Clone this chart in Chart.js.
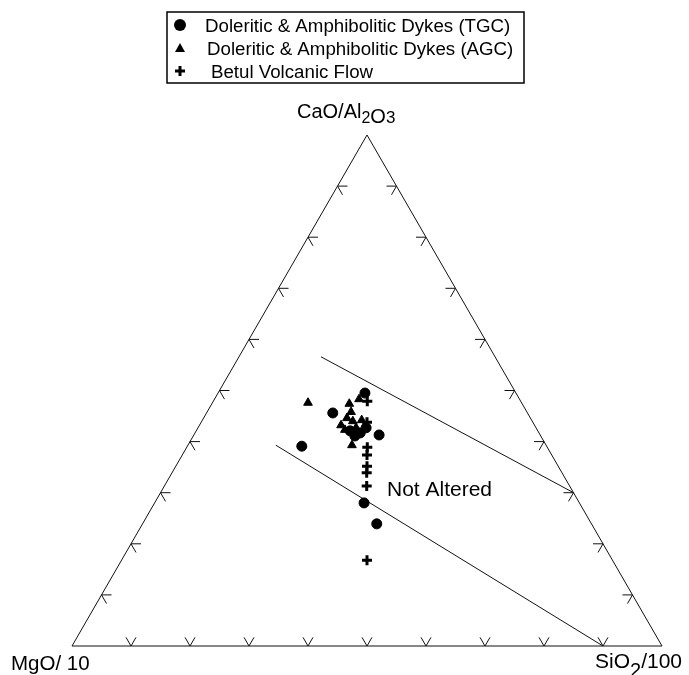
<!DOCTYPE html>
<html>
<head>
<meta charset="utf-8">
<script src="https://cdn.jsdelivr.net/npm/chart.js@4/dist/chart.umd.min.js"></script>
<style>
  html, body { margin: 0; padding: 0; background: #fff; }
  canvas { display: block; }
</style>
</head>
<body>
<canvas id="ternary" width="689" height="675"></canvas>
<script>
// Compositions, as [CaO/Al2O3, MgO/10, SiO2/100] in %
const tgcDykes = [
  [49.5, 25.6, 24.9], [45.6, 33.0, 21.4], [41.3, 27.3, 31.4], [39.1, 41.5, 19.4],
  [41.7, 30.3, 28.0], [42.7, 28.8, 28.5], [41.1, 31.5, 27.4], [28.0, 36.5, 35.5],
  [23.9, 36.4, 39.7], [42.1, 31.8, 26.1]
];
const agcDykes = [
  [47.6, 36.2, 16.2], [47.4, 29.3, 23.3], [48.3, 27.2, 24.5], [44.6, 31.1, 24.3],
  [43.2, 32.8, 24.0], [44.0, 30.4, 25.6], [42.7, 30.5, 26.8], [42.3, 32.6, 25.1],
  [39.3, 32.9, 27.8], [44.2, 28.8, 27.0], [45.8, 29.8, 24.4]
];
const betulFlow = [
  [47.9, 26.0, 26.1], [43.8, 28.1, 28.1], [38.9, 30.5, 30.6], [37.4, 31.3, 31.3],
  [35.2, 32.4, 32.4], [33.9, 33.1, 33.0], [31.3, 34.4, 34.3], [16.8, 41.6, 41.6]
];

// "Not Altered" field boundaries (end points, same units)
const upperBoundary = [[56.6, 29.5, 13.9], [30, 0, 70]];
const lowerBoundary = [[39.3, 45.8, 14.9], [0, 10, 90]];

const tickValues = [10, 20, 30, 40, 50, 60, 70, 80, 90];
const seriesNames = [
  'Doleritic & Amphibolitic Dykes (TGC)',
  'Doleritic & Amphibolitic Dykes (AGC)',
  'Betul Volcanic Flow'
];

const H = Math.sqrt(3) / 2;
const FONT = '"Liberation Sans", Arial, sans-serif';

// ternary -> cartesian (left vertex = MgO, right = SiO2, top = CaO/Al2O3)
function toXY(p) {
  const s = p[0] + p[1] + p[2];
  const a = p[0] / s, c = p[2] / s;
  return { x: c + a / 2, y: a * H };
}

function lineSet(points) {
  return {
    data: points,
    showLine: true,
    pointRadius: 0,
    borderColor: '#111',
    borderWidth: 1,
    clip: false,
    order: 2
  };
}

// tick marks follow the two grid directions entering the triangle
const L = 10 / 590;
const tickSets = [];
tickValues.forEach(v => {
  const t = v / 100;
  // base (SiO2)
  const b = { x: t, y: 0 };
  tickSets.push(lineSet([
    { x: b.x - 0.5 * L, y: H * L }, b, { x: b.x + 0.5 * L, y: H * L }
  ]));
  // left side (CaO/Al2O3)
  const l = { x: t / 2, y: t * H };
  tickSets.push(lineSet([
    { x: l.x + L, y: l.y }, l, { x: l.x + 0.5 * L, y: l.y - H * L }
  ]));
  // right side
  const r = { x: 1 - t / 2, y: t * H };
  tickSets.push(lineSet([
    { x: r.x - L, y: r.y }, r, { x: r.x - 0.5 * L, y: r.y - H * L }
  ]));
});

const outline = lineSet([
  toXY([0, 100, 0]), toXY([0, 0, 100]), toXY([100, 0, 0]), toXY([0, 100, 0])
]);

function drawRich(ctx, x, y, parts) {
  parts.forEach(([text, size, dy]) => {
    ctx.font = size + 'px ' + FONT;
    ctx.fillText(text, x, y + dy);
    x += ctx.measureText(text).width;
  });
}

const labelsPlugin = {
  id: 'labels',
  afterDraw(chart) {
    const ctx = chart.ctx;
    ctx.save();
    ctx.fillStyle = '#000';
    ctx.textBaseline = 'alphabetic';
    drawRich(ctx, 297, 118, [['CaO/Al', 20, 0], ['2', 16, 5], ['O', 20, 5], ['3', 17, 5]]);
    drawRich(ctx, 11, 670, [['MgO/ 10', 20.5, 0]]);
    drawRich(ctx, 595, 668, [['SiO', 21, 0], ['2', 20, 9], ['/100', 21, 0]]);
    drawRich(ctx, 387, 496, [['Not Altered', 21, 0]]);

    // legend box
    ctx.strokeStyle = '#000';
    ctx.lineWidth = 1.5;
    ctx.strokeRect(167, 12, 357, 71);
    const rows = [25, 48, 71];
    const textX = [205, 207, 211];
    rows.forEach((cy, i) => {
      const mx = 180;
      ctx.fillStyle = '#000';
      ctx.strokeStyle = '#000';
      if (i === 0) {
        ctx.beginPath(); ctx.arc(mx, cy, 6, 0, Math.PI * 2); ctx.fill();
      } else if (i === 1) {
        ctx.beginPath();
        ctx.moveTo(mx, cy - 5); ctx.lineTo(mx + 5, cy + 4); ctx.lineTo(mx - 5, cy + 4);
        ctx.closePath(); ctx.fill();
      } else {
        ctx.lineWidth = 3;
        ctx.beginPath();
        ctx.moveTo(mx - 5, cy); ctx.lineTo(mx + 5, cy);
        ctx.moveTo(mx, cy - 5); ctx.lineTo(mx, cy + 5);
        ctx.stroke();
      }
      ctx.font = '18.7px ' + FONT;
      ctx.fillText(seriesNames[i], textX[i], cy + 7);
    });
    ctx.restore();
  }
};

new Chart(document.getElementById('ternary'), {
  type: 'scatter',
  data: {
    datasets: [
      {
        label: seriesNames[0], data: tgcDykes.map(toXY),
        pointStyle: 'circle', pointRadius: 5, borderWidth: 1,
        backgroundColor: '#000', borderColor: '#000', clip: false, order: 0
      },
      {
        label: seriesNames[1], data: agcDykes.map(toXY),
        pointStyle: 'triangle', pointRadius: 5, borderWidth: 1,
        backgroundColor: '#000', borderColor: '#000', clip: false, order: 0
      },
      {
        label: seriesNames[2], data: betulFlow.map(toXY),
        pointStyle: 'cross', pointRadius: 5, borderWidth: 3,
        backgroundColor: '#000', borderColor: '#000', clip: false, order: 0
      },
      outline,
      lineSet(upperBoundary.map(toXY)),
      lineSet(lowerBoundary.map(toXY)),
      ...tickSets
    ]
  },
  options: {
    responsive: false,
    animation: false,
    events: [],
    layout: { padding: { left: 72, right: 27, top: 135, bottom: 29 } },
    scales: {
      x: { type: 'linear', min: 0, max: 1, display: false },
      y: { type: 'linear', min: 0, max: H, display: false }
    },
    plugins: {
      legend: { display: false },
      tooltip: { enabled: false }
    }
  },
  plugins: [labelsPlugin]
});
</script>
</body>
</html>
